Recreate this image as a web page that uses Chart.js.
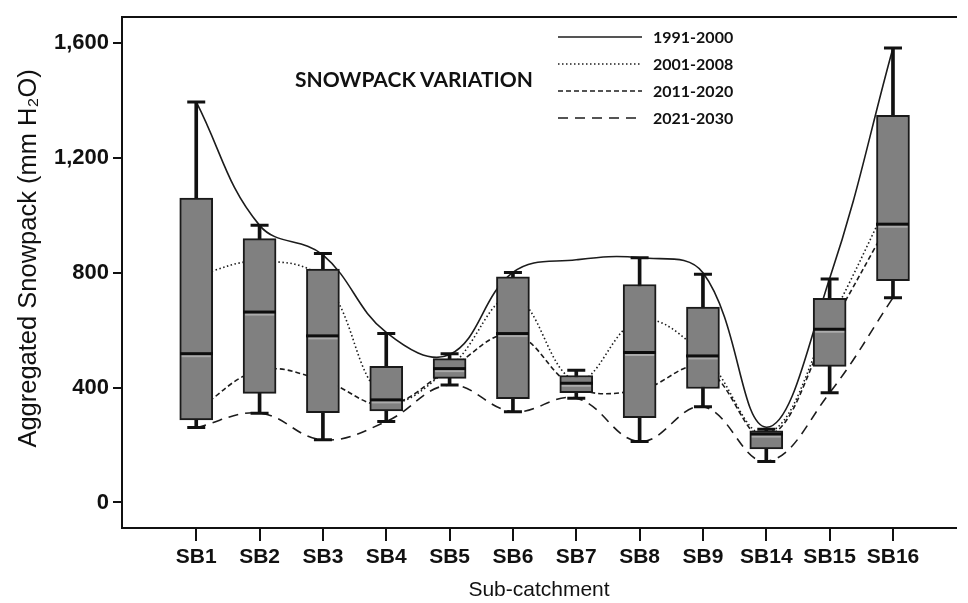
<!DOCTYPE html>
<html>
<head>
<meta charset="utf-8">
<script src="https://cdn.jsdelivr.net/npm/chart.js@4.4.0/dist/chart.umd.min.js"></script>
<style>
  html, body { margin: 0; padding: 0; background: #fff; }
  #wrap { position: relative; width: 968px; height: 603px; }
  #overlay { position: absolute; left: 0; top: 0; pointer-events: none; }
</style>
</head>
<body>
<div id="wrap">
  <canvas id="snowChart" width="968" height="603"></canvas>
  <svg id="overlay" width="968" height="603" xmlns="http://www.w3.org/2000/svg"></svg>
</div>
<script>
const catchments = ["SB1", "SB2", "SB3", "SB4", "SB5", "SB6", "SB7", "SB8", "SB9", "SB14", "SB15", "SB16"];

// box plot stats (mm H2O)
const whiskerMin = [261, 311, 218, 282, 409, 316, 363, 212, 333, 143, 382, 713];
const boxQ1      = [287, 380, 313, 319, 432, 361, 382, 295, 397, 186, 474, 772];
const boxMedian  = [520, 665, 582, 359, 468, 590, 417, 524, 512, 240, 605, 971];
const boxQ3      = [1060, 919, 813, 474, 501, 786, 442, 759, 680, 249, 711, 1348];
const whiskerMax = [1395, 965, 867, 588, 518, 801, 460, 852, 795, 255, 778, 1583];

// period curves
const period1991 = [1395, 965, 862, 592, 515, 801, 845, 852, 800, 262, 780, 1583];
const period2001 = [790, 840, 775, 360, 470, 715, 425, 635, 515, 240, 630, 1080];
const period2011 = [320, 460, 425, 340, 465, 585, 400, 392, 470, 228, 605, 1000];
const period2021 = [261, 311, 218, 282, 409, 316, 363, 212, 333, 143, 382, 713];

const periodLabels = ["1991-2000", "2001-2008", "2011-2020", "2021-2030"];
const yTicks = [0, 400, 800, 1200, 1600];

const dashes = [[], [1.5, 2.5], [5, 3], [10, 7]];
const ink = "#1c1c1c";

function curve(label, values, dash) {
  return {
    type: "line",
    label: label,
    data: values.map((v, i) => ({ x: i, y: v })),
    borderColor: ink,
    borderWidth: 1.6,
    borderDash: dash,
    tension: 0.4,
    pointRadius: 0,
    fill: false,
    order: 4
  };
}

function points(values) {
  return values.map((v, i) => ({ x: i, y: v }));
}

// median mark: black bar with the light band under it
const medianMark = document.createElement("canvas");
medianMark.width = 33;
medianMark.height = 10;
const mctx = medianMark.getContext("2d");
mctx.fillStyle = "#0d0d0d";
mctx.fillRect(0, 4, 33, 3);
mctx.fillStyle = "#ababab";
mctx.fillRect(2, 7, 29, 2);

const boldFont = { family: "Liberation Sans, Arial, sans-serif", weight: "bold" };

new Chart(document.getElementById("snowChart"), {
  type: "bar",
  data: {
    datasets: [
      {
        type: "line",
        label: "median",
        data: points(boxMedian),
        showLine: false,
        pointStyle: medianMark,
        pointRadius: 10,
        order: 0
      },
      {
        type: "line",
        label: "capMax",
        data: points(whiskerMax),
        showLine: false,
        pointStyle: "line",
        pointRadius: 9,
        pointBorderWidth: 3,
        pointBorderColor: "#111",
        order: 1
      },
      {
        type: "line",
        label: "capMin",
        data: points(whiskerMin),
        showLine: false,
        pointStyle: "line",
        pointRadius: 9,
        pointBorderWidth: 3,
        pointBorderColor: "#111",
        order: 1
      },
      {
        label: "box",
        data: catchments.map((c, i) => ({ x: i, y: [boxQ1[i], boxQ3[i]] })),
        backgroundColor: "#808080",
        borderColor: "#1a1a1a",
        borderWidth: 2,
        borderSkipped: false,
        barThickness: 33,
        grouped: false,
        order: 2
      },
      {
        label: "whisker",
        data: catchments.map((c, i) => ({ x: i, y: [whiskerMin[i], whiskerMax[i]] })),
        backgroundColor: "#111",
        borderWidth: 0,
        barThickness: 3,
        grouped: false,
        order: 3
      },
      curve(periodLabels[0], period1991, dashes[0]),
      curve(periodLabels[1], period2001, dashes[1]),
      curve(periodLabels[2], period2011, dashes[2]),
      curve(periodLabels[3], period2021, dashes[3])
    ]
  },
  options: {
    responsive: false,
    animation: false,
    layout: { padding: { top: 14, right: 0, bottom: 0, left: 0 } },
    plugins: {
      legend: { display: false },
      tooltip: { enabled: false }
    },
    scales: {
      x: {
        type: "linear",
        min: -1.172,
        max: 11.995,
        offset: false,
        afterBuildTicks: s => { s.ticks = catchments.map((c, i) => ({ value: i })); },
        afterFit: s => { s.height = 75; },
        grid: { offset: false, drawOnChartArea: false, drawTicks: true, tickLength: 13, color: "#111", lineWidth: 2 },
        border: { display: true, color: "#111", width: 2 },
        ticks: {
          autoSkip: false,
          maxRotation: 0,
          padding: 4,
          color: "#111",
          font: { ...boldFont, size: 21 },
          callback: v => catchments[v]
        },
        title: {
          display: true,
          text: "Sub-catchment",
          color: "#111",
          font: { family: "Liberation Sans, Arial, sans-serif", size: 21 },
          padding: { top: 0, bottom: 0 }
        }
      },
      xTop: {
        type: "linear",
        position: "top",
        min: -1.172,
        max: 11.995,
        afterFit: s => { s.height = 0; },
        grid: { display: false },
        ticks: { display: false },
        border: { display: true, color: "#111", width: 2 }
      },
      y: {
        type: "linear",
        min: -89,
        max: 1690,
        afterBuildTicks: s => { s.ticks = yTicks.map(v => ({ value: v })); },
        afterFit: s => { s.width = 122; },
        grid: { drawOnChartArea: false, drawTicks: true, tickLength: 9, color: "#111", lineWidth: 2 },
        border: { display: true, color: "#111", width: 2 },
        ticks: {
          padding: 4,
          color: "#111",
          font: { ...boldFont, size: 22 },
          callback: v => v.toLocaleString("en-US")
        },
        title: {
          display: true,
          // leading spaces nudge the centred title up to where the original sits
          text: "    Aggregated Snowpack (mm H₂O)",
          color: "#111",
          font: { family: "Liberation Sans, Arial, sans-serif", size: 25.5 },
          padding: { top: 14, bottom: 0 }
        }
      }
    }
  }
});

// title and legend drawn inside the plot
const svgNS = "http://www.w3.org/2000/svg";
const overlay = document.getElementById("overlay");

function addText(x, y, str, size) {
  const t = document.createElementNS(svgNS, "text");
  t.setAttribute("x", x);
  t.setAttribute("y", y);
  t.setAttribute("font-family", "Lato, 'Open Sans', sans-serif");
  t.setAttribute("font-weight", "bold");
  t.setAttribute("font-size", size);
  t.setAttribute("fill", "#111");
  t.textContent = str;
  overlay.appendChild(t);
}

addText(295, 87, "SNOWPACK VARIATION", 21);

periodLabels.forEach((lab, i) => {
  const y = 37 + i * 27;
  const ln = document.createElementNS(svgNS, "line");
  ln.setAttribute("x1", 558);
  ln.setAttribute("x2", 642);
  ln.setAttribute("y1", y);
  ln.setAttribute("y2", y);
  ln.setAttribute("stroke", ink);
  ln.setAttribute("stroke-width", 1.6);
  if (dashes[i].length) ln.setAttribute("stroke-dasharray", dashes[i].join(" "));
  overlay.appendChild(ln);
  addText(653, y + 6, lab, 16);
});
</script>
</body>
</html>
